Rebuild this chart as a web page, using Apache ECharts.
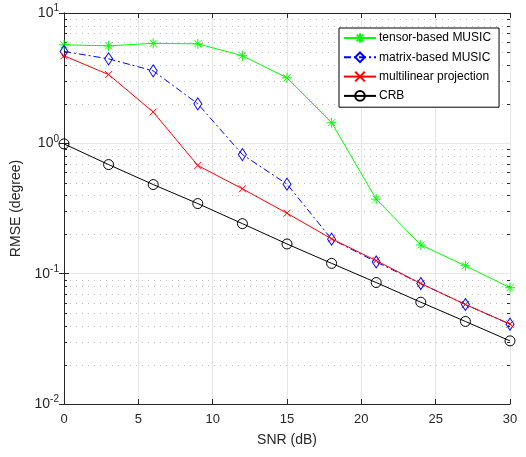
<!DOCTYPE html>
<html>
<head>
<meta charset="utf-8">
<script src="https://cdn.jsdelivr.net/npm/echarts@6/dist/echarts.min.js"></script>
<style>
  html, body { margin: 0; padding: 0; background: #fff; }
  #chart { width: 526px; height: 457px; }
</style>
</head>
<body>
<div id="chart"></div>
<script>
// SNR values (dB)
let snr = [0, 3, 6, 9, 12, 15, 18, 21, 24, 27, 30];
// RMSE (degree)
let tensorMusic = [5.7, 5.6, 5.85, 5.8, 4.7, 3.18, 1.44, 0.373, 0.166, 0.115, 0.078];
let matrixMusic = [5.07, 4.45, 3.6, 2.01, 0.82, 0.486, 0.184, 0.123, 0.084, 0.058, 0.041];
let multiProj = [4.7, 3.37, 1.74, 0.676, 0.448, 0.291, 0.185, 0.126, 0.084, 0.058, 0.041];
let crb = [0.99, 0.687, 0.483, 0.345, 0.242, 0.169, 0.120, 0.0855, 0.0604, 0.043, 0.0305];
let minorVals = [];
[0.01, 0.1, 1].forEach(function (d) {
    for (let k = 2; k <= 9; k++) minorVals.push(+(d * k).toPrecision(2));
});

let font = 'Liberation Sans';
let MyChart = echarts.init(document.getElementById('chart'));

function pair(ys) {
    return snr.map(function (x, i) { return [x, ys[i]]; });
}

function logLabel(v) {
    let e = Math.round(Math.log10(v));
    return '{b|10}{s|' + e + '}';
}

let starPath = 'path://M0,-10L0,10M-10,0L10,0M-7,-7L7,7M-7,7L7,-7';
let crossPath = 'path://M-10,-10L10,10M-10,10L10,-10';

let option = {
    animation: false,
    backgroundColor: '#fff',
    textStyle: { fontFamily: font },
    grid: { left: 64, right: 16, top: 13, bottom: 53 },
    legend: {
        orient: 'vertical',
        left: 339,
        top: 28,
        padding: [4, 8, 4, 4],
        itemGap: 6,
        itemWidth: 32,
        itemHeight: 12,
        backgroundColor: '#fff',
        borderColor: '#000',
        borderWidth: 1,
        borderRadius: 0,
        textStyle: { fontFamily: font, fontSize: 12, color: '#000', padding: [0, 0, 0, -2] },
        data: ['tensor-based MUSIC', 'matrix-based MUSIC', 'multilinear projection', 'CRB']
    },
    xAxis: [{
        type: 'value',
        min: 0, max: 30, interval: 5,
        name: 'SNR (dB)',
        nameLocation: 'middle',
        nameGap: 29,
        nameTextStyle: { fontFamily: font, fontSize: 14, color: '#262626' },
        axisLine: { lineStyle: { color: '#262626', width: 1 } },
        axisTick: { inside: true, length: 5, lineStyle: { color: '#262626' } },
        axisLabel: { fontFamily: font, fontSize: 13, color: '#262626', margin: 9 },
        splitLine: { show: true, lineStyle: { color: '#e6e6e6', width: 1 } }
    }, {
        type: 'value', position: 'top',
        min: 0, max: 30, interval: 5,
        axisLine: { show: true, lineStyle: { color: '#262626' } },
        axisTick: { inside: true, length: 5, lineStyle: { color: '#262626' } },
        axisLabel: { show: false },
        splitLine: { show: false }
    }],
    yAxis: [{
        type: 'log', logBase: 10,
        min: 0.01, max: 10,
        name: 'RMSE (degree)',
        nameLocation: 'middle',
        nameGap: 41,
        nameTextStyle: { fontFamily: font, fontSize: 14, color: '#262626' },
        axisLine: { show: true, lineStyle: { color: '#262626' } },
        axisTick: { inside: true, length: 5, lineStyle: { color: '#262626' } },
        axisLabel: {
            formatter: logLabel,
            margin: 5,
            rich: {
                b: { fontFamily: font, fontSize: 14, color: '#262626' },
                s: { fontFamily: font, fontSize: 10, color: '#262626', padding: [0, 0, 9, 0] }
            }
        },
        splitLine: { show: true, lineStyle: { color: '#e6e6e6', width: 1 } }
    }, {
        type: 'log', logBase: 10, position: 'right',
        min: 0.01, max: 10,
        axisLine: { show: true, lineStyle: { color: '#262626' } },
        axisTick: { inside: true, length: 5, lineStyle: { color: '#262626' } },
        axisLabel: { show: false },
        splitLine: { show: false }
    }],
    series: [{
        // minor grid lines and minor ticks at 2..9 of each decade
        type: 'custom',
        silent: true,
        z: 1,
        data: minorVals.map(function (v) { return [0, v]; }),
        renderItem: function (params, api) {
            let p = api.coord([0, api.value(1)]);
            let cs = params.coordSys;
            let y = Math.round(p[1]) + 0.5;
            let x0 = cs.x, x1 = cs.x + cs.width;
            return {
                type: 'group',
                children: [{
                    type: 'line',
                    shape: { x1: x0, y1: y, x2: x1, y2: y },
                    style: { stroke: '#bcbcbc', lineWidth: 1, lineDash: [1, 5] }
                }, {
                    type: 'line',
                    shape: { x1: x0, y1: y, x2: x0 + 3, y2: y },
                    style: { stroke: '#262626', lineWidth: 1 }
                }, {
                    type: 'line',
                    shape: { x1: x1 - 3, y1: y, x2: x1, y2: y },
                    style: { stroke: '#262626', lineWidth: 1 }
                }]
            };
        }
    }, {
        name: 'tensor-based MUSIC',
        type: 'line',
        data: pair(tensorMusic),
        symbol: starPath,
        symbolSize: 10,
        lineStyle: { color: '#00ff00', width: 1 },
        itemStyle: { color: '#00ff00', borderColor: '#00ff00', borderWidth: 1 },
        z: 3
    }, {
        name: 'matrix-based MUSIC',
        type: 'line',
        data: pair(matrixMusic),
        symbol: 'diamond',
        symbolSize: [8, 12],
        lineStyle: { color: '#0000ff', width: 1, type: [7, 3, 2, 3] },
        itemStyle: { color: 'none', borderColor: '#0000ff', borderWidth: 1 },
        z: 3
    }, {
        name: 'multilinear projection',
        type: 'line',
        data: pair(multiProj),
        symbol: crossPath,
        symbolSize: 7,
        lineStyle: { color: '#ff0000', width: 1 },
        itemStyle: { color: '#ff0000', borderColor: '#ff0000', borderWidth: 1 },
        z: 4
    }, {
        name: 'CRB',
        type: 'line',
        data: pair(crb),
        symbol: 'circle',
        symbolSize: 10,
        lineStyle: { color: '#000000', width: 1 },
        itemStyle: { color: 'none', borderColor: '#000000', borderWidth: 1 },
        z: 3
    }]
};

MyChart.setOption(option);
</script>
</body>
</html>
